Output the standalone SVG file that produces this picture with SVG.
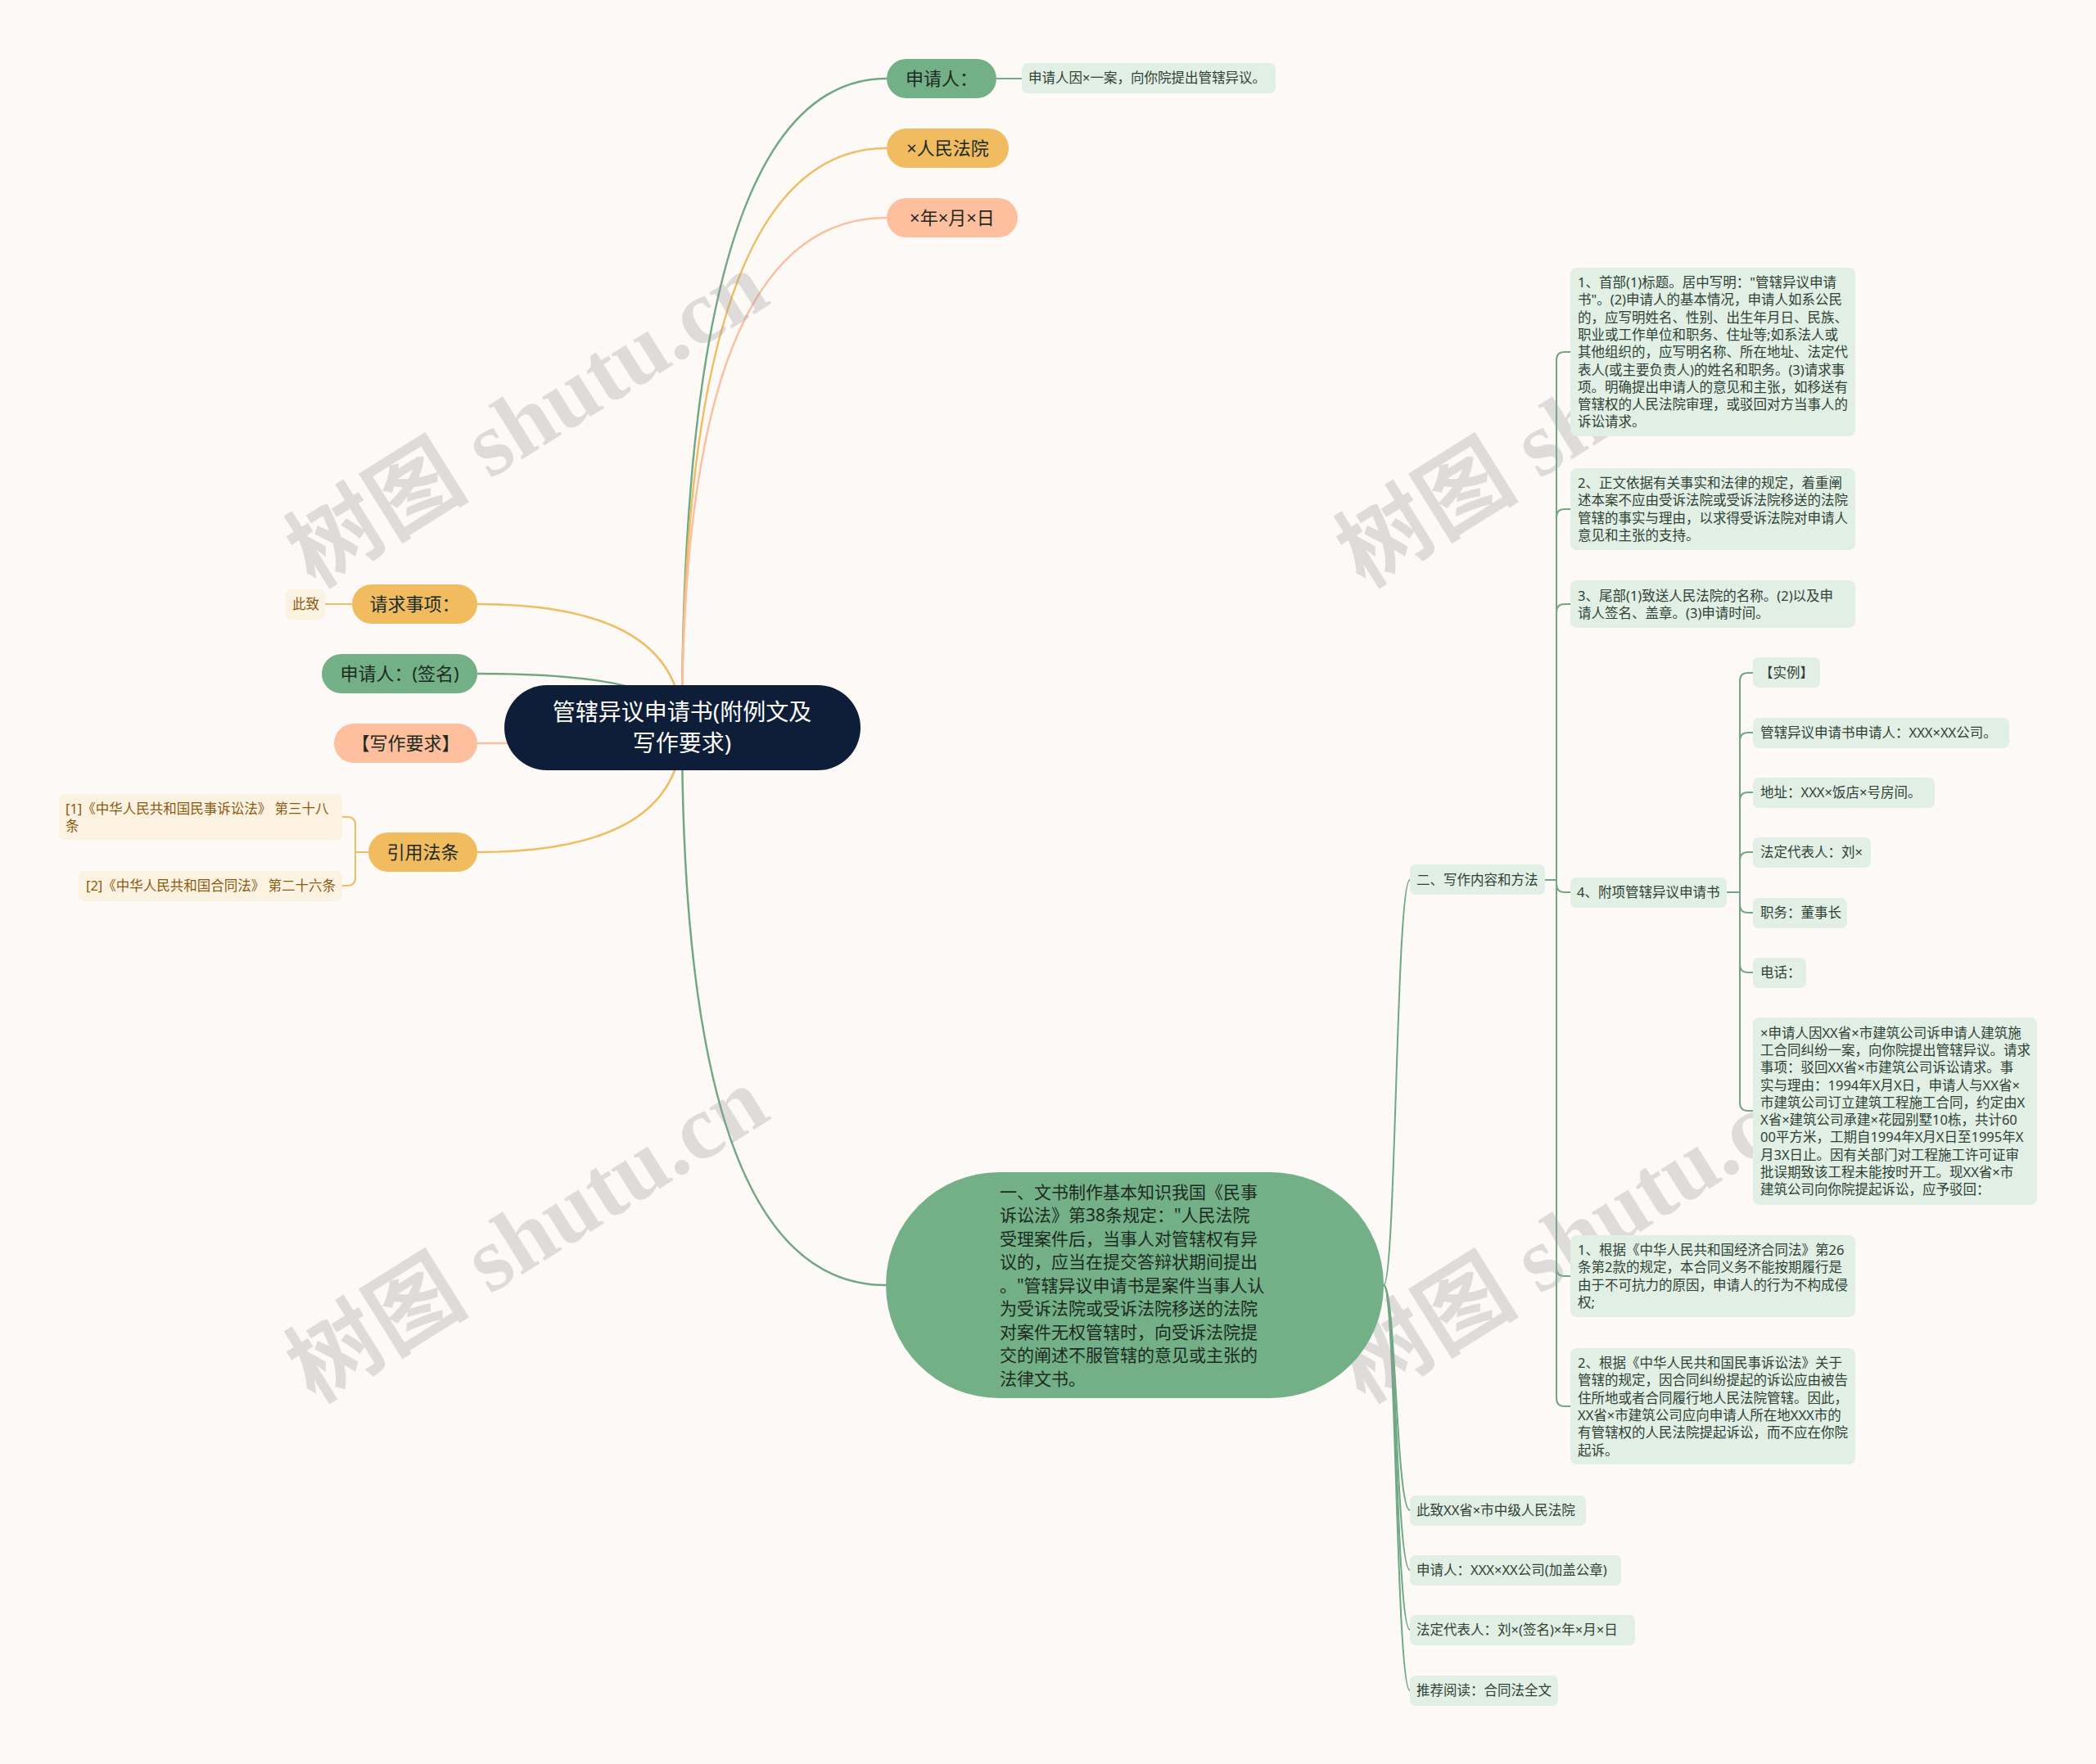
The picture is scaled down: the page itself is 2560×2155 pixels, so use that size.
<svg xmlns="http://www.w3.org/2000/svg" width="2560" height="2155" viewBox="0 0 2560 2155">
<style>
text{font-family:"Noto Sans","Noto Sans CJK SC",sans-serif;}
.t21{font-size:22px;fill:#1c2a21;text-anchor:middle;}
.t16{font-size:16.5px;fill:#2f4236;}
.to{font-size:16.5px;fill:#8a5a10;}
.cg{fill:none;stroke:#6fa883;stroke-width:2.5;}
.co{fill:none;stroke:#efbd62;stroke-width:2.5;}
.cs{fill:none;stroke:#fbbf9f;stroke-width:2.5;}
.cl{fill:none;stroke:#6fa883;stroke-width:2;}
.col{fill:none;stroke:#efbd62;stroke-width:2;}
.g{fill:#73b087;}
.o{fill:#f1bc5f;}
.s{fill:#fdbf9e;}
.lg{fill:#e1efe5;}
.lo{fill:#fcf2e1;}
.wm{font-family:"Liberation Serif","Noto Sans CJK SC",serif;font-size:112px;font-weight:bold;fill:#9a9a9a;opacity:.3;text-anchor:middle;}
</style>
<rect x="0" y="0" width="2560" height="2155" fill="#fdf9f7"/>

<g id="connectors">
  <path class="cg" d="M833 889 Q833 96 1083 96"/>
  <path class="co" d="M833 889 Q833 181 1083 181"/>
  <path class="cs" d="M833 889 Q833 266 1083 266"/>
  <path class="co" d="M833 889 Q833 738 583 738"/>
  <path class="cg" d="M833 889 Q833 823 583 823"/>
  <path class="cs" d="M833 889 Q833 908 583 908"/>
  <path class="co" d="M833 889 Q833 1041 583 1041"/>
  <path class="cg" d="M833 889 Q833 1570 1082 1570"/>
  <path class="cl" d="M1217 96 H1248"/>
  <path class="col" d="M430 738 H397"/>
  <path class="col" d="M450 1041 H434 M434 1041 V1008 Q434 998 424 998 H418 M434 1041 V1072 Q434 1082 424 1082 H418"/>
  <path class="cl" d="M1690 1570 C1705 1570 1705 1075 1722 1075"/>
  <path class="cl" d="M1690 1570 C1705 1570 1705 1845 1722 1845"/>
  <path class="cl" d="M1690 1570 C1705 1570 1705 1918 1722 1918"/>
  <path class="cl" d="M1690 1570 C1705 1570 1705 1991 1722 1991"/>
  <path class="cl" d="M1690 1570 C1705 1570 1705 2065 1722 2065"/>
  <path class="cl" d="M1887 1075 H1901 M1901 1075 V440 Q1901 430 1911 430 H1918 M1901 632 Q1901 622 1911 622 H1918 M1901 748 Q1901 738 1911 738 H1918 M1901 1075 V1080 Q1901 1090 1911 1090 H1918 M1901 1075 V1708 Q1901 1718 1911 1718 H1918 M1901 1549 Q1901 1559 1911 1559 H1918"/>
  <path class="cl" d="M2109 1090 H2125 M2125 1090 V832 Q2125 822 2135 822 H2141 M2125 905 Q2125 895 2135 895 H2141 M2125 978 Q2125 968 2135 968 H2141 M2125 1051 Q2125 1041 2135 1041 H2141 M2125 1090 V1347 Q2125 1357 2135 1357 H2141 M2125 1105 Q2125 1115 2135 1115 H2141 M2125 1178 Q2125 1188 2135 1188 H2141"/>
</g>

<g id="watermarks">
  <text class="wm" transform="rotate(-32 645 514)" x="645" y="550">树图 shutu.cn</text>
  <text class="wm" transform="rotate(-32 645 1510)" x="645" y="1546">树图 shutu.cn</text>
  <text class="wm" transform="rotate(-32 1927 514)" x="1927" y="550">树图 shutu.cn</text>
  <text class="wm" transform="rotate(-32 1927 1510)" x="1927" y="1546">树图 shutu.cn</text>
</g>

<g id="root">
  <rect x="616" y="837" width="435" height="104" rx="52" fill="#0e1e38"/>
  <text x="833" y="880" font-size="28" fill="#ffffff" text-anchor="middle">管辖异议申请书(附例文及</text>
  <text x="833" y="918" font-size="28" fill="#ffffff" text-anchor="middle">写作要求)</text>
</g>

<g id="n-shenqingren">
  <rect class="g" x="1083" y="72" width="134" height="48" rx="24"/>
  <text class="t21" x="1150" y="104">申请人：</text>
</g>
<g id="n-shenqingren-leaf">
  <rect class="lg" x="1248" y="77" width="310" height="37" rx="7"/>
  <text class="t16" x="1256" y="101">申请人因×一案，向你院提出管辖异议。</text>
</g>
<g id="n-fayuan">
  <rect class="o" x="1083" y="157" width="149" height="48" rx="24"/>
  <text class="t21" x="1157.5" y="189">×人民法院</text>
</g>
<g id="n-riqi">
  <rect class="s" x="1083" y="242" width="160" height="48" rx="24"/>
  <text class="t21" x="1163" y="274">×年×月×日</text>
</g>

<g id="n-qingqiu">
  <rect class="o" x="430" y="714" width="153" height="48" rx="24"/>
  <text class="t21" x="506.5" y="746">请求事项：</text>
</g>
<g id="n-cizhi">
  <rect class="lo" x="349" y="720" width="48" height="37" rx="7"/>
  <text class="to" x="357" y="744">此致</text>
</g>
<g id="n-qianming">
  <rect class="g" x="393" y="799" width="190" height="48" rx="24"/>
  <text class="t21" x="488" y="831">申请人：(签名)</text>
</g>
<g id="n-xiezuo">
  <rect class="s" x="408" y="884" width="175" height="48" rx="24"/>
  <text class="t21" x="495.5" y="916">【写作要求】</text>
</g>
<g id="n-yinyong">
  <rect class="o" x="450" y="1017" width="133" height="48" rx="24"/>
  <text class="t21" x="516.5" y="1049">引用法条</text>
</g>
<g id="n-fa1">
  <rect class="lo" x="72" y="970" width="346" height="56" rx="7"/>
  <text class="to" x="80" y="994">[1]《中华人民共和国民事诉讼法》 第三十八</text>
  <text class="to" x="80" y="1015">条</text>
</g>
<g id="n-fa2">
  <rect class="lo" x="96" y="1064" width="322" height="37" rx="7"/>
  <text class="to" x="105" y="1088">[2]《中华人民共和国合同法》 第二十六条</text>
</g>

<g id="n-yi">
  <rect class="g" x="1082" y="1432" width="608" height="276" rx="138"/>
  <text x="1221" y="1463.5" font-size="21" fill="#1c2a21">
    <tspan x="1221">一、文书制作基本知识我国《民事</tspan>
    <tspan x="1221" dy="28.5">诉讼法》第38条规定："人民法院</tspan>
    <tspan x="1221" dy="28.5">受理案件后，当事人对管辖权有异</tspan>
    <tspan x="1221" dy="28.5">议的，应当在提交答辩状期间提出</tspan>
    <tspan x="1221" dy="28.5">。"管辖异议申请书是案件当事人认</tspan>
    <tspan x="1221" dy="28.5">为受诉法院或受诉法院移送的法院</tspan>
    <tspan x="1221" dy="28.5">对案件无权管辖时，向受诉法院提</tspan>
    <tspan x="1221" dy="28.5">交的阐述不服管辖的意见或主张的</tspan>
    <tspan x="1221" dy="28.5">法律文书。</tspan>
  </text>
</g>

<g id="n-er">
  <rect class="lg" x="1722" y="1056" width="165" height="37" rx="7"/>
  <text class="t16" x="1730" y="1080.5">二、写作内容和方法</text>
</g>
<g id="n-shoubu">
  <rect class="lg" x="1918" y="327" width="348" height="206" rx="8"/>
  <text class="t16" x="1927" y="351">
    <tspan x="1927">1、首部(1)标题。居中写明："管辖异议申请</tspan>
    <tspan x="1927" dy="21.3">书"。(2)申请人的基本情况，申请人如系公民</tspan>
    <tspan x="1927" dy="21.3">的，应写明姓名、性别、出生年月日、民族、</tspan>
    <tspan x="1927" dy="21.3">职业或工作单位和职务、住址等;如系法人或</tspan>
    <tspan x="1927" dy="21.3">其他组织的，应写明名称、所在地址、法定代</tspan>
    <tspan x="1927" dy="21.3">表人(或主要负责人)的姓名和职务。(3)请求事</tspan>
    <tspan x="1927" dy="21.3">项。明确提出申请人的意见和主张，如移送有</tspan>
    <tspan x="1927" dy="21.3">管辖权的人民法院审理，或驳回对方当事人的</tspan>
    <tspan x="1927" dy="21.3">诉讼请求。</tspan>
  </text>
</g>
<g id="n-zhengwen">
  <rect class="lg" x="1918" y="572" width="348" height="100" rx="8"/>
  <text class="t16" x="1927" y="596">
    <tspan x="1927">2、正文依据有关事实和法律的规定，着重阐</tspan>
    <tspan x="1927" dy="21.3">述本案不应由受诉法院或受诉法院移送的法院</tspan>
    <tspan x="1927" dy="21.3">管辖的事实与理由，以求得受诉法院对申请人</tspan>
    <tspan x="1927" dy="21.3">意见和主张的支持。</tspan>
  </text>
</g>
<g id="n-weibu">
  <rect class="lg" x="1918" y="709" width="348" height="58" rx="8"/>
  <text class="t16" x="1927" y="733.5">
    <tspan x="1927">3、尾部(1)致送人民法院的名称。(2)以及申</tspan>
    <tspan x="1927" dy="21.3">请人签名、盖章。(3)申请时间。</tspan>
  </text>
</g>
<g id="n-fuxiang">
  <rect class="lg" x="1918" y="1072" width="191" height="37" rx="7"/>
  <text class="t16" x="1926" y="1096">4、附项管辖异议申请书</text>
</g>
<g id="n-shili">
  <rect class="lg" x="2141" y="803" width="82" height="37" rx="7"/>
  <text class="t16" x="2149" y="827.5">【实例】</text>
</g>
<g id="n-sqs">
  <rect class="lg" x="2141" y="877" width="313" height="37" rx="7"/>
  <text class="t16" x="2150" y="901">管辖异议申请书申请人：XXX×XX公司。</text>
</g>
<g id="n-dizhi">
  <rect class="lg" x="2141" y="950" width="222" height="37" rx="7"/>
  <text class="t16" x="2150" y="974">地址：XXX×饭店×号房间。</text>
</g>
<g id="n-fading">
  <rect class="lg" x="2141" y="1023" width="144" height="37" rx="7"/>
  <text class="t16" x="2150" y="1047">法定代表人：刘×</text>
</g>
<g id="n-zhiwu">
  <rect class="lg" x="2141" y="1097" width="115" height="37" rx="7"/>
  <text class="t16" x="2150" y="1121">职务：董事长</text>
</g>
<g id="n-dianhua">
  <rect class="lg" x="2141" y="1170" width="65" height="37" rx="7"/>
  <text class="t16" x="2150" y="1194">电话：</text>
</g>
<g id="n-shili-text">
  <rect class="lg" x="2141" y="1243" width="347" height="229" rx="8"/>
  <text class="t16" x="2150" y="1267.6">
    <tspan x="2150">×申请人因XX省×市建筑公司诉申请人建筑施</tspan>
    <tspan x="2150" dy="21.3">工合同纠纷一案，向你院提出管辖异议。请求</tspan>
    <tspan x="2150" dy="21.3">事项：驳回XX省×市建筑公司诉讼请求。事</tspan>
    <tspan x="2150" dy="21.3">实与理由：1994年X月X日，申请人与XX省×</tspan>
    <tspan x="2150" dy="21.3">市建筑公司订立建筑工程施工合同，约定由X</tspan>
    <tspan x="2150" dy="21.3">X省×建筑公司承建×花园别墅10栋，共计60</tspan>
    <tspan x="2150" dy="21.3">00平方米，工期自1994年X月X日至1995年X</tspan>
    <tspan x="2150" dy="21.3">月3X日止。因有关部门对工程施工许可证审</tspan>
    <tspan x="2150" dy="21.3">批误期致该工程未能按时开工。现XX省×市</tspan>
    <tspan x="2150" dy="21.3">建筑公司向你院提起诉讼，应予驳回：</tspan>
  </text>
</g>
<g id="n-genju1">
  <rect class="lg" x="1918" y="1509" width="348" height="100" rx="8"/>
  <text class="t16" x="1927" y="1533">
    <tspan x="1927">1、根据《中华人民共和国经济合同法》第26</tspan>
    <tspan x="1927" dy="21.3">条第2款的规定，本合同义务不能按期履行是</tspan>
    <tspan x="1927" dy="21.3">由于不可抗力的原因，申请人的行为不构成侵</tspan>
    <tspan x="1927" dy="21.3">权;</tspan>
  </text>
</g>
<g id="n-genju2">
  <rect class="lg" x="1918" y="1647" width="348" height="142" rx="8"/>
  <text class="t16" x="1927" y="1671">
    <tspan x="1927">2、根据《中华人民共和国民事诉讼法》关于</tspan>
    <tspan x="1927" dy="21.3">管辖的规定，因合同纠纷提起的诉讼应由被告</tspan>
    <tspan x="1927" dy="21.3">住所地或者合同履行地人民法院管辖。因此，</tspan>
    <tspan x="1927" dy="21.3">XX省×市建筑公司应向申请人所在地XXX市的</tspan>
    <tspan x="1927" dy="21.3">有管辖权的人民法院提起诉讼，而不应在你院</tspan>
    <tspan x="1927" dy="21.3">起诉。</tspan>
  </text>
</g>
<g id="n-cizhi2">
  <rect class="lg" x="1722" y="1827" width="215" height="37" rx="7"/>
  <text class="t16" x="1730" y="1851">此致XX省×市中级人民法院</text>
</g>
<g id="n-sqr2">
  <rect class="lg" x="1722" y="1900" width="258" height="37" rx="7"/>
  <text class="t16" x="1730" y="1924">申请人：XXX×XX公司(加盖公章)</text>
</g>
<g id="n-fd2">
  <rect class="lg" x="1722" y="1973" width="275" height="37" rx="7"/>
  <text class="t16" x="1730" y="1997">法定代表人：刘×(签名)×年×月×日</text>
</g>
<g id="n-tuijian">
  <rect class="lg" x="1722" y="2047" width="181" height="37" rx="7"/>
  <text class="t16" x="1730" y="2071">推荐阅读：合同法全文</text>
</g>
</svg>
